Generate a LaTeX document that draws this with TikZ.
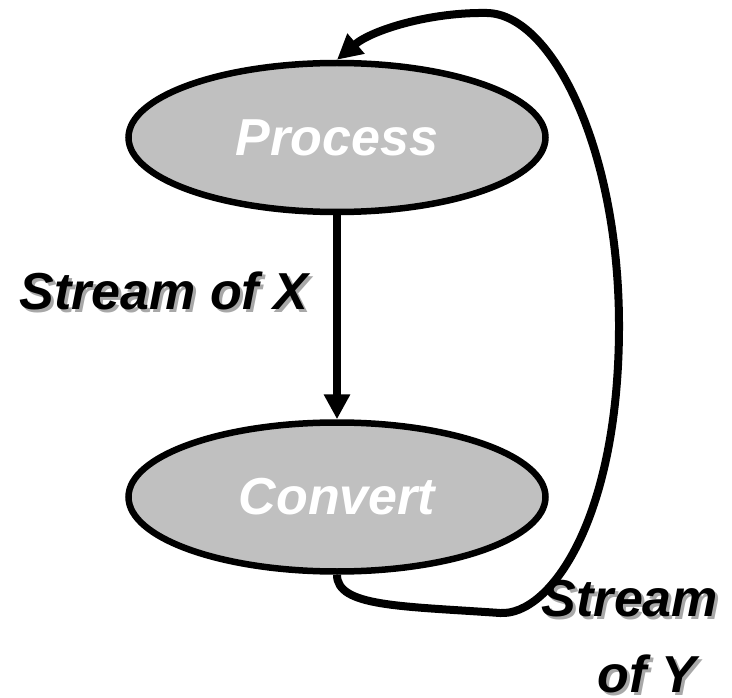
\documentclass[tikz,border=0pt]{standalone}
\usepackage{fontspec}
\setmainfont{Liberation Sans}
\usetikzlibrary{shapes.geometric,arrows.meta}
\definecolor{fillgray}{HTML}{C0C0C0}
\definecolor{shadowgray}{HTML}{A8A8A8}
\newcommand\shadtxt[1]{\makebox[0pt][l]{\hspace{3pt}\raisebox{-3pt}{\textcolor{shadowgray}{#1}}}#1}
\begin{document}
\begin{tikzpicture}[x=1pt,y=-1pt,
  proc/.style={ellipse, draw=black, line width=6.5pt, fill=fillgray,
    minimum width=417pt, minimum height=149pt, inner sep=0pt,
    text=white, font=\fontsize{52}{62}\selectfont\bfseries\itshape},
  lbl/.style={inner sep=0pt, font=\fontsize{52}{76}\selectfont\bfseries\itshape},
  flow/.style={line width=8pt, -{Triangle[length=25pt,width=25pt]}}]
\useasboundingbox (0,0) rectangle (732,698);
\node[proc] (P) at (337,137.5) {Process};
\node[proc] (C) at (337,497) {Convert};
\draw[flow] (P.south) -- (C.north);
\node[lbl] (LX) at (164,292) {\shadtxt{Stream of X}};
\node[lbl, anchor=north, align=center] (LY) at (630,580)
  {\shadtxt{Stream}\\\hspace*{34pt}\shadtxt{of Y}};
\draw[flow] (C.south) .. controls +(0,32) and (400,606) .. (500,613)
  .. controls (550,616) and (618,520) .. (619,330)
  .. controls (620,150) and (552,14) .. (487,13)
  .. controls (430,12) and (372,30) .. (P.north);
\end{tikzpicture}
\end{document}
